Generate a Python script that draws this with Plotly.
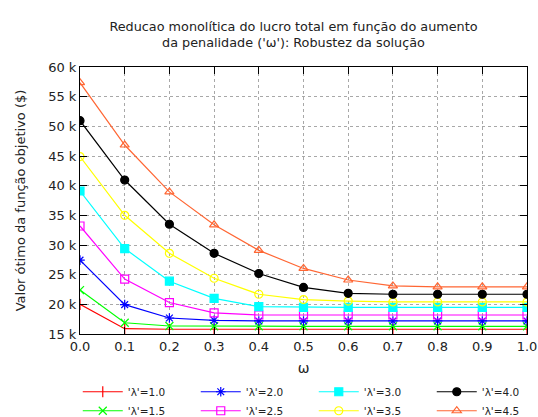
import plotly.graph_objects as go

omega = [0.0, 0.1, 0.2, 0.3, 0.4, 0.5, 0.6, 0.7, 0.8, 0.9, 1.0]

lam_1_0 = [20.0, 15.9, 15.8, 15.8, 15.8, 15.8, 15.8, 15.8, 15.8, 15.8, 15.8]
lam_1_5 = [22.4, 16.9, 16.35, 16.3, 16.3, 16.3, 16.3, 16.3, 16.3, 16.3, 16.3]
lam_2_0 = [27.45, 19.95, 17.7, 17.3, 17.2, 17.2, 17.2, 17.2, 17.2, 17.2, 17.2]
lam_2_5 = [33.2, 24.25, 20.3, 18.55, 18.2, 18.2, 18.2, 18.2, 18.2, 18.2, 18.2]
lam_3_0 = [39.1, 29.4, 23.9, 21.0, 19.6, 19.5, 19.5, 19.5, 19.5, 19.5, 19.5]
lam_3_5 = [44.9, 35.0, 28.6, 24.4, 21.7, 20.8, 20.55, 20.4, 20.4, 20.4, 20.4]
lam_4_0 = [50.95, 40.95, 33.5, 28.6, 25.2, 22.85, 21.85, 21.7, 21.7, 21.7, 21.7]
lam_4_5 = [57.35, 46.85, 38.95, 33.4, 29.1, 26.05, 24.1, 23.1, 22.95, 22.95, 22.95]

labels = ["'λ'=1.0", "'λ'=1.5", "'λ'=2.0", "'λ'=2.5", "'λ'=3.0", "'λ'=3.5", "'λ'=4.0", "'λ'=4.5"]
series = [lam_1_0, lam_1_5, lam_2_0, lam_2_5, lam_3_0, lam_3_5, lam_4_0, lam_4_5]
colors = ["#ff0000", "#00ff00", "#0000ff", "#ff00ff", "#00ffff", "#ffff00", "#000000", "#ff6633"]
symbols = ["line-ns-open", "x-thin-open", "asterisk-open", "square-open", "square",
           "circle-open", "circle", "triangle-up-open"]
ranks = [1, 5, 2, 6, 3, 7, 4, 8]

yticks = [15, 20, 25, 30, 35, 40, 45, 50, 55, 60]
yticktext = [f"{v} k" for v in yticks]
xticks = omega
xticktext = [f"{v:.1f}" for v in xticks]

fig = go.Figure()
for lab, ys, c, s, r in zip(labels, series, colors, symbols, ranks):
    fig.add_trace(go.Scatter(
        x=omega, y=ys, mode="lines+markers", name=lab, legendrank=r,
        line=dict(color=c, width=1.2),
        marker=dict(symbol=s, size=8, color=c, line=dict(color=c, width=1.2)),
    ))

axis_common = dict(
    showline=True, linecolor="#000000", linewidth=1, mirror="ticks",
    ticks="inside", ticklen=7, tickcolor="#000000",
    showgrid=True, gridcolor="#a8a8a8", griddash="dot", gridwidth=1,
    zeroline=False, tickfont=dict(size=13, color="#222222"), automargin=False,
)

fig.update_xaxes(range=[0, 1], tickvals=xticks, ticktext=xticktext,
                 title=dict(text="ω", font=dict(size=14, color="#222222"), standoff=10),
                 **axis_common)
fig.update_yaxes(range=[15, 60], tickvals=yticks, ticktext=yticktext,
                 title=dict(text="Valor ótimo da função objetivo ($)", font=dict(size=13, color="#222222"), standoff=19),
                 **axis_common)

fig.update_layout(
    width=538, height=417,
    margin=dict(l=80, r=11, t=67, b=83, autoexpand=False),
    paper_bgcolor="white", plot_bgcolor="white",
    font=dict(family="DejaVu Sans", color="#222222"),
    title=dict(text="Reducao monolítica do lucro total em função do aumento<br>da penalidade ('ω'): Robustez da solução",
               x=0.5455, xanchor="center", yref="container", y=1 - 30.5 / 417, yanchor="middle",
               font=dict(size=12.8, color="#222222")),
    legend=dict(orientation="h", xref="paper", yref="paper",
                x=-0.005, xanchor="left", y=-0.162, yanchor="top",
                entrywidth=63, entrywidthmode="pixels", itemwidth=40,
                font=dict(size=10.5, color="#222222"), tracegroupgap=0,
                bgcolor="rgba(0,0,0,0)"),
    showlegend=True,
)

fig.write_html("out.html", config={"displayModeBar": False},
               post_script="document.body.style.margin='0';document.body.style.overflow='hidden';")
